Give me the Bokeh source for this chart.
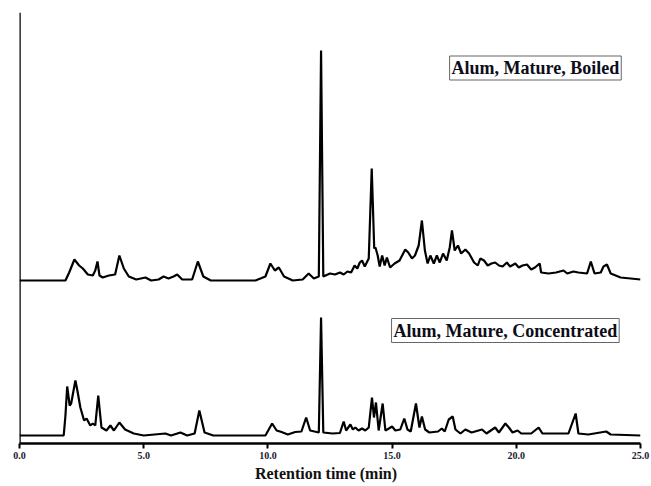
from bokeh.plotting import figure
from bokeh.models import Range1d, FixedTicker, Span, Label, PrintfTickFormatter
from bokeh.embed import file_html
from bokeh.resources import INLINE

# Retention time (min) and detector signal (arbitrary units)
boiled_time = [0.0, 1.85, 2.0, 2.21, 2.4, 2.55, 2.75, 2.95, 3.05, 3.14, 3.22, 3.35, 3.6, 3.85, 4.02, 4.2, 4.4,
               4.7, 5.07, 5.3, 5.6, 5.8, 6.0, 6.2, 6.35, 6.55, 6.95, 7.18, 7.4, 7.7, 9.5, 9.9, 10.1, 10.28, 10.44,
               10.65, 11.0, 11.4, 11.64, 11.85, 12.05, 12.14, 12.23, 12.5, 12.7, 12.9, 13.05, 13.2, 13.35, 13.49,
               13.6, 13.7, 13.79, 13.9, 14.06, 14.18, 14.28, 14.33, 14.42, 14.5, 14.6, 14.7, 14.79, 14.92, 15.1,
               15.3, 15.53, 15.65, 15.8, 15.92, 16.07, 16.2, 16.32, 16.43, 16.54, 16.68, 16.8, 16.92, 17.05, 17.2,
               17.32, 17.41, 17.52, 17.65, 17.78, 17.95, 18.1, 18.3, 18.45, 18.55, 18.7, 18.85, 19.0, 19.15, 19.3,
               19.45, 19.62, 19.75, 19.96, 20.1, 20.25, 20.43, 20.6, 20.75, 20.94, 21.0, 21.3, 21.6, 21.9, 22.05,
               22.3, 22.5, 22.85, 23.0, 23.15, 23.4, 23.51, 23.65, 23.8, 24.2, 24.6, 25.0]
boiled_signal = [157, 157, 165, 178, 172, 169, 163, 162, 167, 176, 162, 160, 162, 163, 182, 169, 161,
                 158, 160, 157, 158, 161, 159, 161, 163, 158, 158, 176, 161, 157, 157, 161, 174, 167, 170,
                 161, 157, 158, 164, 159, 161, 387, 161, 164, 163, 165, 163, 166, 165, 172,
                 169, 175, 177, 171, 179, 269, 189, 190, 182, 171, 182, 172, 180, 170, 174,
                 177, 188, 185, 179, 182, 192, 217, 187, 174, 182, 174, 182, 175, 184, 177,
                 190, 207, 187, 192, 184, 188, 184, 175, 172, 179, 177, 172, 174, 175, 172,
                 171, 175, 171, 174, 170, 172, 173, 168, 170, 174, 165, 164, 165, 167, 164,
                 166, 165, 164, 176, 164, 165, 171, 173, 164, 160, 159, 158]

conc_time = [0.0, 1.78, 1.85, 1.92, 2.02, 2.08, 2.25, 2.33, 2.45, 2.6, 2.7, 2.85, 2.95, 3.05, 3.17, 3.3, 3.5,
             3.66, 3.8, 4.02, 4.25, 4.6, 5.0, 5.87, 6.1, 6.48, 6.75, 7.05, 7.24, 7.45, 7.8, 9.9, 10.17, 10.35,
             10.55, 10.8, 11.1, 11.35, 11.54, 11.7, 12.05, 12.14, 12.23, 12.6, 12.9, 13.05, 13.15, 13.32, 13.42,
             13.52, 13.65, 13.79, 13.92, 14.06, 14.19, 14.27, 14.35, 14.46, 14.62, 14.73, 14.87, 15.0, 15.13,
             15.33, 15.49, 15.62, 15.75, 15.96, 16.1, 16.2, 16.33, 16.5, 16.85, 17.0, 17.12, 17.28, 17.44, 17.55,
             17.75, 17.95, 18.2, 18.62, 18.8, 19.15, 19.3, 19.56, 19.7, 19.85, 20.05, 20.2, 20.6, 20.9, 21.05,
             21.6, 22.1, 22.39, 22.5, 22.9, 23.62, 23.8, 25.0]
conc_signal = [2, 2, 22, 51, 32, 34, 57, 47, 30, 17, 19, 12, 14, 12, 42, 10, 7,
               12, 7, 15, 8, 4, 2, 4, 2, 5, 2, 4, 27, 5, 2, 2, 14, 7,
               5.5, 3, 5.5, 6, 20, 7, 5, 120, 5, 4, 4.5, 16, 7, 13, 8,
               10, 7, 9, 7, 10, 40, 20, 35, 7, 34, 7, 9, 11, 7,
               8, 19, 8, 6, 34, 10, 21, 8, 5, 6, 9, 6, 18, 21, 8,
               4, 8, 5, 8, 4, 10, 5, 14, 10, 5, 7, 4, 4, 10, 4,
               4, 4, 24, 4, 3, 6, 3, 2]

x_ticks = [0, 5, 10, 15, 20, 25]
boiled_name = "Alum, Mature, Boiled"
conc_name = "Alum, Mature, Concentrated"
x_title = "Retention time   (min)"

p = figure(width=651, height=486, output_backend="svg", toolbar_location=None,
           x_range=Range1d(0, 25), y_range=Range1d(-6, 425),
           min_border_left=19, min_border_right=11, min_border_top=12, min_border_bottom=43)
p.outline_line_color = None
p.xgrid.visible = False
p.ygrid.visible = False
p.yaxis.visible = False

ax = p.xaxis[0]
ax.ticker = FixedTicker(ticks=x_ticks)
ax.formatter = PrintfTickFormatter(format="%.1f")
ax.axis_line_width = 2.5
ax.axis_line_color = "black"
ax.major_tick_line_width = 2
ax.major_tick_in = 0
ax.major_tick_out = 5
ax.minor_tick_line_color = None
ax.major_label_text_font = "Liberation Serif"
ax.major_label_text_font_style = "bold"
ax.major_label_text_font_size = "10px"
ax.major_label_text_color = "#1a1a2e"
ax.major_label_standoff = 3
ax.axis_label = x_title
ax.axis_label_text_font = "Liberation Serif"
ax.axis_label_text_font_style = "bold"
ax.axis_label_text_font_size = "16px"
ax.axis_label_text_color = "#111111"
ax.axis_label_standoff = 3

p.add_layout(Span(location=0, dimension="height", line_color="black", line_width=2.5))

p.line(boiled_time, boiled_signal, line_color="black", line_width=2.2)
p.line(conc_time, conc_signal, line_color="black", line_width=2.2)

for txt, xc, yc in [(boiled_name, 20.77, 369.5), (conc_name, 19.56, 107)]:
    p.add_layout(Label(x=xc, y=yc, text=txt, text_align="center", text_baseline="middle",
                       text_font="Liberation Serif", text_font_style="bold", text_font_size="18px",
                       text_color="#0d0d1a", border_line_color="#666666", border_line_width=1,
                       background_fill_color="white", padding=2))

open("out.html", "w").write(file_html(p, INLINE))
